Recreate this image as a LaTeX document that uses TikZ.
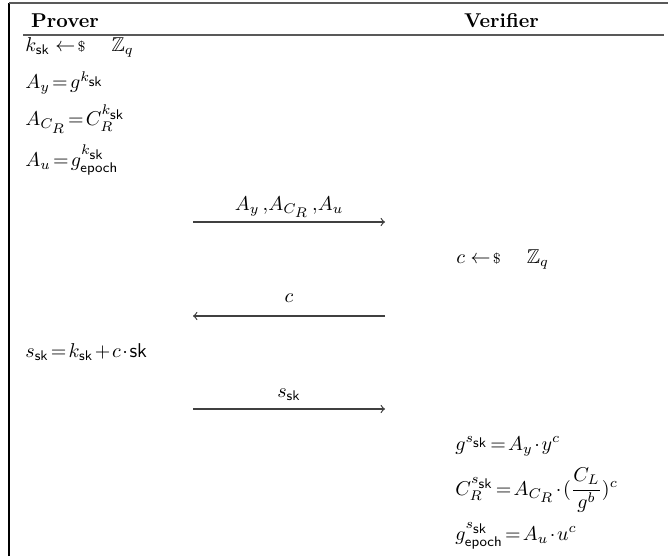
\documentclass[tikz,border=0pt]{standalone}
\usepackage{amsmath, amssymb}
\DeclareMathSizes{10}{10}{7}{7}
\thickmuskip=2mu
\medmuskip=1.5mu

\begin{document}
\begin{tikzpicture}[x=0.5pt, y=-0.5pt, >=to,
  head/.style={anchor=base, inner sep=0pt, font=\bfseries},
  row/.style={anchor=base west, inner sep=0pt},
  lbl/.style={anchor=base, inner sep=0pt},
  msg/.style={->, line width=0.6pt, black!75},
  rule/.style={line width=0.8pt, black!65}]
  \useasboundingbox (0,0) rectangle (668,556);

  % frame and header
  \coordinate (tl) at (9,3);
  \coordinate (tr) at (668,3);
  \coordinate (bl) at (9,556);
  \coordinate (hl) at (23,35);
  \coordinate (hr) at (664,35);
  \draw[line width=1pt] (bl) -- (tl);
  \draw[rule] (tl) -- (tr);
  \draw[rule] (hl) -- (hr);
  \node[head] (prover)   at (65,28)    {Prover};
  \node[head] (verifier) at (501.5,28) {Verifier};

  % prover commitment
  \node[row] (ksk) at (25,52)  {$k_{\mathsf{sk}}\,\leftarrow{\scriptstyle\$}\hspace{13pt}\mathbb{Z}_q$};
  \node[row] (ay)  at (25,89)  {$A_y = g^{k_{\mathsf{sk}}}$};
  \node[row] (acr) at (25,126) {$A_{C_R} = C_R^{k_{\mathsf{sk}}}$};
  \node[row] (au)  at (25,166) {$A_u = g_{\mathsf{epoch}}^{k_{\mathsf{sk}}}$};

  % messages
  \coordinate (m1a) at (193,222);
  \coordinate (m1b) at (385,222);
  \coordinate (m2a) at (193,316);
  \coordinate (m2b) at (385,316);
  \coordinate (m3a) at (193,409);
  \coordinate (m3b) at (385,409);
  \draw[msg] (m1a) -- (m1b);
  \draw[msg] (m2b) -- (m2a);
  \draw[msg] (m3a) -- (m3b);
  \node[lbl] (l1) at (289,210) {$A_y\,{,}A_{C_R}\,{,}A_u$};
  \node[lbl] (l2) at (289,302) {$c$};
  \node[lbl] (l3) at (289,397) {$s_{\mathsf{sk}}$};

  % challenge and response
  \node[row] (chal) at (456,263) {$c\,\leftarrow{\scriptstyle\$}\hspace{13pt}\mathbb{Z}_q$};
  \node[row] (ssk)  at (25,357)  {$s_{\mathsf{sk}} = k_{\mathsf{sk}} + c\cdot\mathsf{sk}$};

  % verification
  \node[row] (v1) at (455,450) {$g^{s_{\mathsf{sk}}} = A_y\cdot y^c$};
  \node[row] (v2) at (455,495) {$C_R^{s_{\mathsf{sk}}} = A_{C_R}\cdot(\dfrac{C_L}{g^b})^c$};
  \node[row] (v3) at (455,540) {$g_{\mathsf{epoch}}^{s_{\mathsf{sk}}} = A_u\cdot u^c$};
\end{tikzpicture}
\end{document}
